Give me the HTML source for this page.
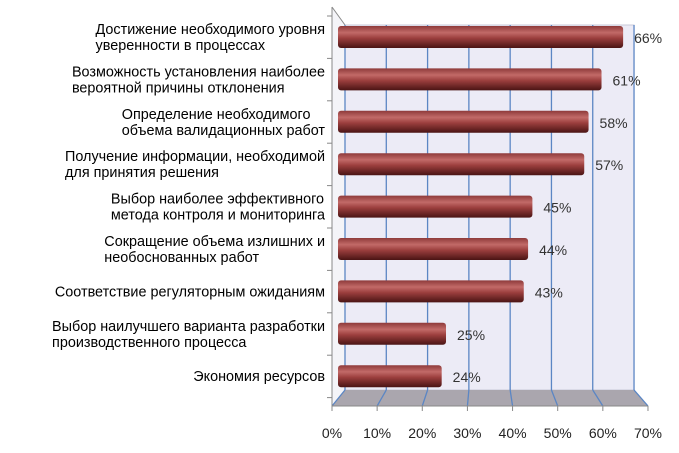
<!DOCTYPE html>
<html><head><meta charset="utf-8"><style>
body{margin:0;background:#fff;width:679px;height:453px;overflow:hidden}
svg{display:block;font-family:"Liberation Sans",sans-serif}
</style></head><body>
<svg id="c" width="679" height="453">
<defs>
<linearGradient id="bg" x1="0" y1="0" x2="0" y2="1">
<stop offset="0" stop-color="#8e3a3a"/><stop offset="0.3" stop-color="#c26a68"/><stop offset="0.55" stop-color="#9c3f3e"/><stop offset="1" stop-color="#4a1414"/>
</linearGradient>
</defs>
</svg>
<script>
const categories=["Достижение необходимого уровня|уверенности в процессах","Возможность установления наиболее|вероятной причины отклонения","Определение необходимого|объема валидационных работ","Получение информации, необходимой|для принятия решения","Выбор наиболее эффективного|метода контроля и мониторинга","Сокращение объема излишних и|необоснованных работ","Соответствие регуляторным ожиданиям","Выбор наилучшего варианта разработки|производственного процесса","Экономия ресурсов"];
const values=[66,61,58,57,45,44,43,25,24];
const ticks=[0,10,20,30,40,50,60,70];
const NS="http://www.w3.org/2000/svg";
const svg=document.getElementById('c');
function mk(t,a,p){const e=document.createElementNS(NS,t);for(const k in a)e.setAttribute(k,a[k]);(p||svg).appendChild(e);return e;}
const xFront=v=>332+v*4.514;
const xBack=v=>345+v*4.129;
const xBar=v=>338+v*4.32;
const yBar=i=>37+i*42.4;
let w=mk('polygon',{points:`345,25 634,25 634,390 345,390`,fill:'#ecebf6',stroke:'#c8c8d8'});

let f=mk('polygon',{points:`345,390 634,390 ${xFront(70)},406 332,406`,fill:'#aaa6ae'});

mk('polygon',{points:`332,7 345,25 345,390 332,406`,fill:'#f4f4f8'});
mk('line',{x1:332,y1:7,x2:345,y2:25,stroke:'#888'});
ticks.forEach(t=>{
  const g=mk('line',{x1:xBack(t),y1:25,x2:xBack(t),y2:390,stroke:'#5b86c4','stroke-width':1.3});
  
  mk('line',{x1:xBack(t),y1:390,x2:xFront(t),y2:406,stroke:'#5b86c4','stroke-width':1.3});
  mk('line',{x1:xFront(t),y1:406,x2:xFront(t),y2:411,stroke:'#888'});
  const tx=mk('text',{x:xFront(t),y:438,'text-anchor':'middle','font-size':14,fill:'#222'});
  tx.textContent=t+'%';
  
});
mk('line',{x1:332,y1:406,x2:xFront(70),y2:406,stroke:'#888'});
mk('line',{x1:332,y1:7,x2:332,y2:406,stroke:'#888'});
for(let i=0;i<=9;i++){const y=16+i*42.4;mk('line',{x1:327,y1:y,x2:332,y2:y,stroke:'#888'});}
categories.forEach((c,i)=>{
  const y=yBar(i),x2=xBar(values[i]);
  const b=mk('rect',{x:338,y:y-11,width:x2-338,height:22,rx:3,fill:'url(#bg)'});
  
  const v=mk('text',{x:x2+11,y:y+6,'font-size':14,fill:'#333'});v.textContent=values[i]+'%';
  
  const lines=c.split('|');
  const t=mk('text',{'font-size':14.4,fill:'#000'});
  
  const sp=[];
  lines.forEach((l,j)=>{const s=mk('tspan',{y:y-(lines.length-1)*8+j*16+5},t);s.textContent=l;sp.push(s);});
  let mw=0;sp.forEach(s=>mw=Math.max(mw,s.getComputedTextLength()));
  sp.forEach(s=>s.setAttribute('x',325-mw));
});
</script>
</body></html>
